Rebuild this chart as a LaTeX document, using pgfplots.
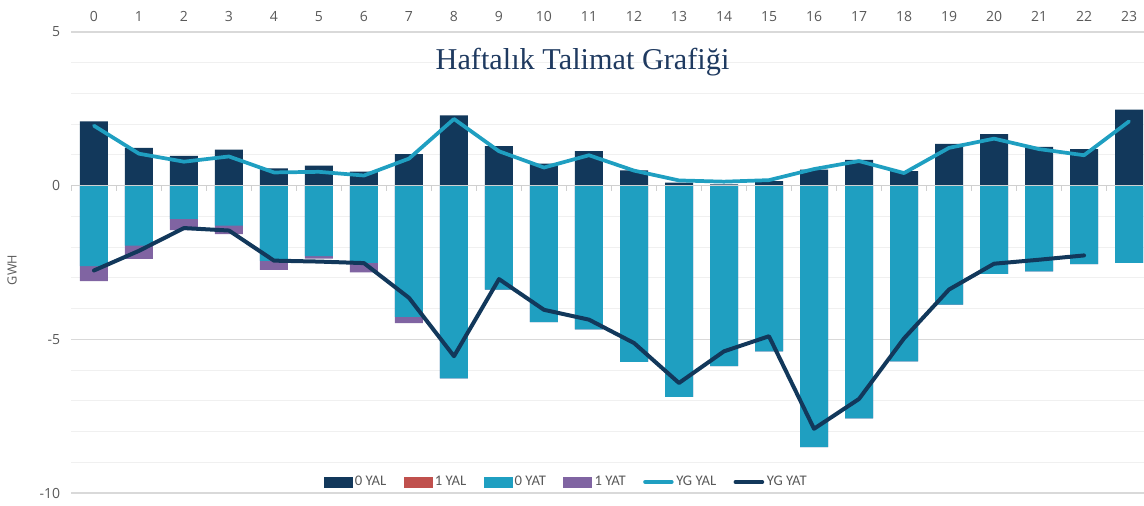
\documentclass[border=0pt]{standalone}
\usepackage{fontspec}
\setmainfont{Open Sans}
\newfontfamily\titlefont{Liberation Serif}
\newfontfamily\legfont{Carlito}
\usepackage{pgfplots}
\pgfplotsset{compat=1.18}
\usepackage{pgfplotstable}
\definecolor{navy}{HTML}{12385B}
\definecolor{tealc}{HTML}{1F9FC1}
\definecolor{purp}{HTML}{8064A2}
\definecolor{redd}{HTML}{C0504D}
\definecolor{tickgray}{HTML}{595959}
\definecolor{majgrid}{HTML}{D9D9D9}
\definecolor{mingrid}{HTML}{F0F0F0}
\definecolor{titlec}{HTML}{1F3A60}

\pgfplotstableread{
h yal0 yal1 yat0 yat1 ygyal ygyat
0 2.09 0 -2.62 -0.49 1.95 -2.76
1 1.23 0 -1.95 -0.43 1.04 -2.12
2 0.97 0 -1.08 -0.37 0.78 -1.38
3 1.17 0 -1.30 -0.28 0.95 -1.46
4 0.56 0 -2.45 -0.29 0.43 -2.44
5 0.65 0 -2.29 -0.08 0.45 -2.47
6 0.46 0 -2.51 -0.31 0.33 -2.52
7 1.03 0 -4.27 -0.20 0.88 -3.65
8 2.29 0 -6.27 0 2.17 -5.55
9 1.29 0 -3.38 0 1.12 -3.04
10 0.72 0 -4.44 0 0.59 -4.04
11 1.12 0 -4.68 0 0.99 -4.36
12 0.50 0 -5.73 0 0.49 -5.12
13 0.10 0 -6.87 0 0.17 -6.42
14 0.04 0 -5.87 0 0.13 -5.39
15 0.15 0 -5.39 0 0.18 -4.90
16 0.52 0 -8.51 0 0.54 -7.91
17 0.84 0 -7.57 0 0.80 -6.94
18 0.47 0 -5.72 0 0.41 -4.97
19 1.36 0 -3.87 0 1.23 -3.38
20 1.68 0 -2.87 0 1.53 -2.54
21 1.26 0 -2.79 0 1.19 -2.41
22 1.19 0 -2.55 0 0.99 -2.27
23 2.47 0 -2.51 0 2.09 nan
}\data

\begin{document}
\begin{tikzpicture}
\path[use as bounding box] (-53.6pt,-9.75pt) rectangle (804.4pt,369.75pt);
\begin{axis}[
  at={(0,0)}, anchor=south west,
  scale only axis, width=804.4pt, height=345.75pt,
  xmin=-0.5, xmax=23.333, ymin=-10, ymax=5,
  axis line style={draw=none},
  tick style={draw=none},
  xtick={0,...,23},
  xticklabel pos=upper,
  xticklabel style={font=\fontsize{10.5}{12}\selectfont, text=tickgray, yshift=4pt},
  ytick={-10,-5,0,5},
  minor ytick={-9,-8,-7,-6,-4,-3,-2,-1,1,2,3,4},
  yticklabel style={font=\fontsize{10.5}{12}\selectfont, text=tickgray, xshift=-5pt},
  /pgf/number format/assume math mode=true,
  ymajorgrids, yminorgrids,
  major grid style={color=majgrid, line width=0.8pt},
  minor grid style={color=mingrid, line width=0.8pt},
  ylabel={GWH},
  ylabel style={at={(axis description cs:-0.05545,0.4837)}, anchor=center, font=\fontsize{9.5}{11}\selectfont, text=tickgray},
  legend columns=6,
  legend style={at={(axis description cs:0.4615,0.024)}, anchor=center, draw=none, fill=none,
    font=\legfont\fontsize{11}{13}\selectfont, text=tickgray,
    /tikz/every even column/.append style={column sep=11pt},
    inner sep=0pt},
  clip=false,
]
% bars
\addplot[ybar, bar width=21pt, bar shift=0pt, fill=navy, draw=none, forget plot] table[x=h, y=yal0] {\data};
\addplot[ybar, bar width=21pt, bar shift=0pt, fill=redd, draw=none, forget plot] table[x=h, y=yal1] {\data};
\addplot[ybar, bar width=21pt, bar shift=0pt, fill=purp, draw=none, forget plot] table[x=h, y expr=\thisrow{yat0}+\thisrow{yat1}] {\data};
\addplot[ybar, bar width=21pt, bar shift=0pt, fill=tealc, draw=none, forget plot] table[x=h, y=yat0] {\data};
% zero line and category ticks
\draw[majgrid!90!gray, line width=0.8pt] (axis cs:-0.5,0) -- (axis cs:23.333,0);
\pgfplotsinvokeforeach{-0.5,0.5,...,22.5}{\draw[majgrid!90!gray, line width=0.8pt] (axis cs:#1,0) -- ++(0pt,-3.75pt);}
% lines
\addplot[tealc, line width=2.8pt, line join=round, line cap=round, forget plot] table[x=h, y=ygyal] {\data};
\addplot[navy, line width=3pt, line join=round, line cap=round, forget plot] table[x=h, y=ygyat] {\data};
% legend
\addlegendimage{legend image code/.code={\fill[navy] (0pt,-3.75pt) rectangle (21pt,3.75pt);}}
\addlegendentry{0 YAL}
\addlegendimage{legend image code/.code={\fill[redd] (0pt,-3.75pt) rectangle (21pt,3.75pt);}}
\addlegendentry{1 YAL}
\addlegendimage{legend image code/.code={\fill[tealc] (0pt,-3.75pt) rectangle (21pt,3.75pt);}}
\addlegendentry{0 YAT}
\addlegendimage{legend image code/.code={\fill[purp] (0pt,-3.75pt) rectangle (21pt,3.75pt);}}
\addlegendentry{1 YAT}
\addlegendimage{legend image code/.code={\draw[tealc, line width=2.8pt, line cap=round] (1.5pt,0pt) -- (21.5pt,0pt);}}
\addlegendentry{YG YAL}
\addlegendimage{legend image code/.code={\draw[navy, line width=3pt, line cap=round] (1.5pt,0pt) -- (21.5pt,0pt);}}
\addlegendentry{YG YAT}
% title
\node[font=\titlefont\fontsize{22.7}{27}\selectfont, text=titlec] at (axis description cs:0.4765,0.935) {Haftalık Talimat Grafiği};
\end{axis}
\end{tikzpicture}
\end{document}
